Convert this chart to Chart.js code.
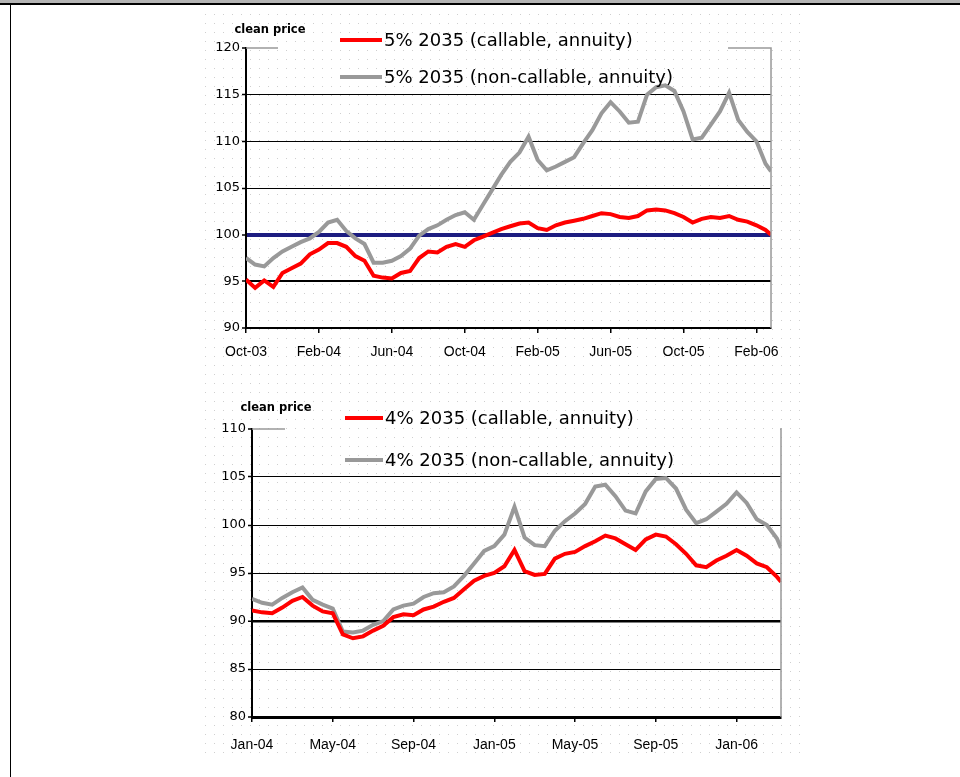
<!DOCTYPE html>
<html><head><meta charset="utf-8">
<script src="https://cdn.jsdelivr.net/npm/chart.js@4.4.1/dist/chart.umd.min.js"></script>
<style>
html,body{margin:0;padding:0;background:#fff;width:960px;height:777px;overflow:hidden;position:relative;}
#topband{position:absolute;left:0;top:0;width:960px;height:3px;background:#b4b4b4;border-bottom:2px solid #000;}
#leftline{position:absolute;left:10px;top:5px;width:1px;height:772px;background:#000;}
#bg{position:absolute;left:0;top:0;}
.wrap{position:absolute;}
</style></head><body>
<canvas id="bg" width="960" height="777"></canvas>
<div id="topband"></div><div id="leftline"></div>
<div class="wrap" style="left:190px;top:20px;width:600px;height:355px"><canvas id="c1" width="600" height="355"></canvas></div>
<div class="wrap" style="left:190px;top:385px;width:610px;height:375px"><canvas id="c2" width="610" height="375"></canvas></div>
<script>
// ---------- data: top chart (x = months since Oct-03) ----------
const topMonths = [0,0.5,1,1.5,2,2.5,3,3.5,4,4.5,5,5.5,6,6.5,7,7.5,8,8.5,9,9.5,10,10.5,11,11.5,12,12.5,13,13.5,14,14.5,15,15.5,16,16.5,17,17.5,18,18.5,19,19.5,20,20.5,21,21.5,22,22.5,23,23.5,24,24.5,25,25.5,26,26.5,27,27.5,28,28.5,28.8];
const topCallable = [95.2,94.3,95.1,94.4,95.9,96.4,96.9,97.9,98.4,99.1,
  99.1,98.7,97.7,97.2,95.6,95.4,95.3,95.9,96.1,97.5,
  98.2,98.1,98.7,99.0,98.7,99.4,99.8,100.2,100.6,100.9,
  101.2,101.3,100.7,100.5,101.0,101.3,101.5,101.7,102.0,102.3,
  102.2,101.9,101.8,102.0,102.6,102.7,102.6,102.3,101.9,101.3,
  101.7,101.9,101.8,102.0,101.6,101.4,101.0,100.5,100.0];
const topNonCallable = [97.5,96.8,96.6,97.5,98.2,98.7,99.2,99.6,100.3,101.3,
  101.6,100.4,99.6,99.0,97.0,97.0,97.2,97.7,98.5,99.9,
  100.6,101.0,101.6,102.1,102.4,101.6,103.2,104.8,106.4,107.8,
  108.8,110.5,108.0,106.9,107.3,107.8,108.3,109.8,111.2,113.0,
  114.2,113.2,112.0,112.1,115.0,115.8,116.0,115.4,113.2,110.2,
  110.4,111.8,113.2,115.2,112.3,111.0,110.0,107.6,106.8];
const topTickMonths = [0,4,8,12,16,20,24,28];
const topTickLabels = ['Oct-03','Feb-04','Jun-04','Oct-04','Feb-05','Jun-05','Oct-05','Feb-06'];
const topLabels = ['5% 2035 (callable, annuity)','5% 2035 (non-callable, annuity)'];

// ---------- data: bottom chart (x = months since Jan-04) ----------
const bottomMonths = [0,0.5,1,1.5,2,2.5,3,3.5,4,4.5,5,5.5,6,6.5,7,7.5,8,8.5,9,9.5,10,10.5,11,11.5,12,12.5,13,13.5,14,14.5,15,15.5,16,16.5,17,17.5,18,18.5,19,19.5,20,20.5,21,21.5,22,22.5,23,23.5,24,24.5,25,25.5,26,26.2];
const bottomCallable = [91.1,90.9,90.8,91.4,92.1,92.5,91.6,91.0,90.8,88.6,
  88.2,88.4,89.0,89.5,90.4,90.7,90.6,91.2,91.5,92.0,
  92.4,93.3,94.2,94.7,95.0,95.7,97.4,95.2,94.8,94.9,
  96.5,97.0,97.2,97.8,98.3,98.9,98.6,98.0,97.4,98.5,
  99.0,98.8,98.0,97.0,95.8,95.6,96.3,96.8,97.4,96.8,
  96.0,95.6,94.6,94.1];
const bottomNonCallable = [92.3,91.9,91.7,92.4,93.0,93.5,92.2,91.7,91.3,88.9,
  88.8,89.0,89.6,90.0,91.2,91.6,91.8,92.5,92.9,93.0,
  93.6,94.7,96.0,97.3,97.8,99.0,101.9,98.7,97.9,97.8,
  99.4,100.4,101.2,102.2,104.0,104.2,103.0,101.5,101.2,103.5,
  104.8,104.9,103.8,101.6,100.2,100.6,101.4,102.2,103.4,102.3,
  100.6,100.0,98.6,97.6];
const bottomTickMonths = [0,4,8,12,16,20,24];
const bottomTickLabels = ['Jan-04','May-04','Sep-04','Jan-05','May-05','Sep-05','Jan-06'];
const bottomLabels = ['4% 2035 (callable, annuity)','4% 2035 (non-callable, annuity)'];

const unitLabel = 'clean price';
const RED = '#ff0000', GREY = '#999999', NAVY = '#1c1c80';

// ---------- dotted background ----------
(function(){
  const c = document.getElementById('bg').getContext('2d');
  c.fillStyle = '#cfcfcf';
  for (let y = 14; y < 760; y += 9) for (let x = 205; x < 800; x += 9) c.fillRect(x, y, 1, 1);
})();

const decor = {
  id: 'decor',
  afterDraw(chart, args, o) {
    const ctx = chart.ctx, a = chart.chartArea;
    ctx.save();
    ctx.strokeStyle = o.frameColor; ctx.lineWidth = 1.5;
    ctx.beginPath();
    ctx.moveTo(a.left, a.top); ctx.lineTo(a.left + o.frameLeft, a.top);
    ctx.moveTo(a.right - o.frameRight, a.top); ctx.lineTo(a.right, a.top); ctx.lineTo(a.right, a.bottom);
    ctx.stroke();
    ctx.fillStyle = '#000';
    ctx.font = 'bold 11.5px "DejaVu Sans"';
    ctx.textAlign = 'center'; ctx.textBaseline = 'middle';
    ctx.fillText(o.unit, a.left + o.unitDx, a.top + o.unitDy);
    chart.data.datasets.forEach((ds, i) => {
      const y = a.top + o.legDy + i * o.legGap;
      const x0 = a.left + o.legDx;
      ctx.strokeStyle = ds.borderColor; ctx.lineWidth = 4;
      ctx.beginPath(); ctx.moveTo(x0, y); ctx.lineTo(x0 + o.legLen, y); ctx.stroke();
      ctx.font = o.legFont; ctx.textAlign = 'left'; ctx.fillStyle = '#000';
      ctx.fillText(ds.label, x0 + o.legLen + 2, y + 1);
    });
    ctx.restore();
  }
};

function makeChart(id, cfg) {
  const gridStyle = cfg.gridStyle;
  return new Chart(document.getElementById(id), {
    type: 'line',
    data: {
      datasets: [
        { label: cfg.labels[0], data: cfg.months.map((m, i) => ({x: m, y: cfg.callable[i]})),
          borderColor: RED, borderWidth: 4, pointRadius: 0, tension: 0 },
        { label: cfg.labels[1], data: cfg.months.map((m, i) => ({x: m, y: cfg.nonCallable[i]})),
          borderColor: GREY, borderWidth: 4, pointRadius: 0, tension: 0 }
      ]
    },
    plugins: [decor],
    options: {
      responsive: false, animation: false, devicePixelRatio: 1,
      layout: { padding: cfg.padding },
      plugins: {
        legend: { display: false }, tooltip: { enabled: false },
        decor: cfg.decor
      },
      scales: {
        x: {
          type: 'linear', min: 0, max: cfg.xMax,
          afterBuildTicks: s => { s.ticks = cfg.tickMonths.map(v => ({value: v})); },
          afterFit: s => { s.height = cfg.xHeight; },
          ticks: { autoSkip: false, maxRotation: 0, padding: cfg.xPad, color: '#000',
            font: { family: '"Liberation Sans"', size: 14 },
            callback: (v, i) => cfg.tickLabels[i] },
          grid: { drawOnChartArea: false, drawTicks: true, tickLength: 5, color: '#000', lineWidth: 1.5 },
          border: { color: '#000', width: cfg.xBorder }
        },
        y: {
          min: cfg.yMin, max: cfg.yMax,
          afterFit: s => { s.width = cfg.yWidth; },
          ticks: { stepSize: 5, padding: 2, color: '#000',
            font: { family: '"DejaVu Sans"', size: 13 } },
          grid: {
            drawTicks: true, tickLength: 4, tickColor: '#000', tickWidth: 1.5,
            color: c => (gridStyle[c.tick.value] || ['#000', 1])[0],
            lineWidth: c => (gridStyle[c.tick.value] || ['#000', 1])[1]
          },
          border: { color: '#000', width: 2 }
        }
      }
    }
  });
}

makeChart('c1', {
  months: topMonths, callable: topCallable, nonCallable: topNonCallable, labels: topLabels,
  tickMonths: topTickMonths, tickLabels: topTickLabels, xMax: 28.8, yMin: 90, yMax: 120,
  padding: { top: 28, right: 14, left: 0, bottom: 0 }, yWidth: 56, xHeight: 47, xPad: 11, xBorder: 2,
  gridStyle: { 90: ['rgba(0,0,0,0)', 0], 95: ['#000', 2], 100: [NAVY, 4], 120: ['rgba(0,0,0,0)', 0] },
  decor: { frameColor: '#999', frameLeft: 32, frameRight: 43, unit: unitLabel, unitDx: 24, unitDy: -18,
    legDx: 94, legDy: -8, legGap: 37, legLen: 42, legFont: '18px "DejaVu Sans"' }
});

makeChart('c2', {
  months: bottomMonths, callable: bottomCallable, nonCallable: bottomNonCallable, labels: bottomLabels,
  tickMonths: bottomTickMonths, tickLabels: bottomTickLabels, xMax: 26.2, yMin: 80, yMax: 110,
  padding: { top: 44, right: 19, left: 0, bottom: 0 }, yWidth: 62, xHeight: 43, xPad: 15, xBorder: 3,
  gridStyle: { 80: ['rgba(0,0,0,0)', 0], 90: ['#000', 2.5], 110: ['rgba(0,0,0,0)', 0] },
  decor: { frameColor: '#999', frameLeft: 33, frameRight: 1, unit: unitLabel, unitDx: 24, unitDy: -21,
    legDx: 93, legDy: -11, legGap: 42, legLen: 38, legFont: '18px "DejaVu Sans"' }
});
</script>
</body></html>
